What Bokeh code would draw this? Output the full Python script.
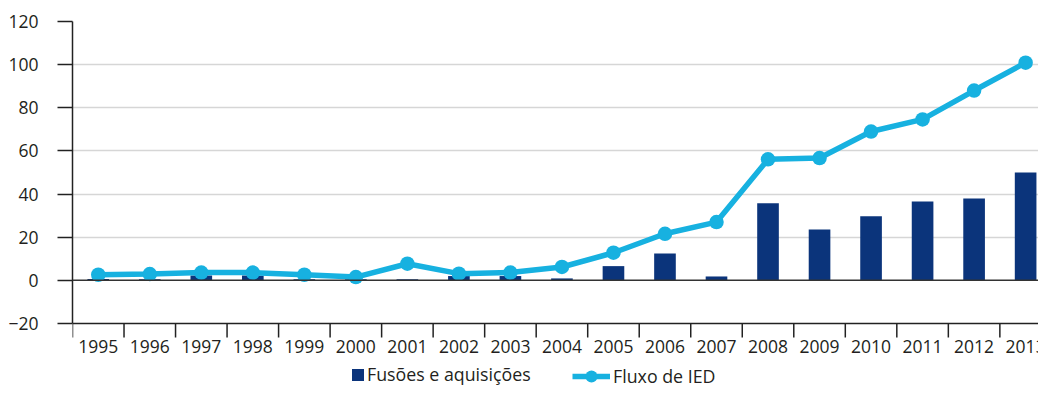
from bokeh.plotting import figure
from bokeh.models import (LinearAxis, FixedTicker, Range1d, Span, Legend, LegendItem,
                          ColumnDataSource)
from bokeh.core.properties import value
from bokeh.embed import file_html
from bokeh.resources import INLINE

years = ["1995", "1996", "1997", "1998", "1999", "2000", "2001", "2002", "2003", "2004",
         "2005", "2006", "2007", "2008", "2009", "2010", "2011", "2012", "2013"]
fusoes = [0.6, 0.5, 2.2, 2.2, 0.5, 0.5, 0.5, 2.0, 2.0, 0.9, 6.6, 12.5, 1.8,
          35.8, 23.6, 29.7, 36.6, 38.0, 50.0]
fluxo_ied = [2.6, 2.9, 3.6, 3.6, 2.6, 1.5, 7.7, 3.1, 3.6, 6.2, 12.8, 21.6, 27.0,
             56.1, 56.7, 69.0, 74.6, 88.0, 100.9]
y_ticks = [-20, 0, 20, 40, 60, 80, 100, 120]

n = len(years)
idx = list(range(n))
y_min, y_max = y_ticks[0], y_ticks[-1]
src = ColumnDataSource(dict(x=idx, fus=fusoes, ied=fluxo_ied, year=years,
                            base=[y_min] * n))

FONT = "Open Sans"
TXT = "#231f20"
NAVY = "#0b347b"
CYAN = "#17b1e0"
AX = "#222222"

W, H = 1038, 391
LEFT, TOP = 72, 21
PLOT_H = 302                            # height of the -20..120 span in px
FRAME_H = H - TOP
PPU_Y = PLOT_H / (y_max - y_min)
extra = (FRAME_H - PLOT_H) / PPU_Y      # room under the axis for labels/legend
x_end = 18.25

p = figure(width=W, height=H, output_backend="svg", toolbar_location=None,
           x_range=Range1d(-0.5, x_end), y_range=Range1d(y_min - extra, y_max),
           x_axis_location=None, y_axis_location=None,
           min_border_left=LEFT, min_border_right=0, min_border_top=TOP,
           min_border_bottom=0)
p.outline_line_color = None
p.background_fill_color = "white"
p.xgrid.visible = False
p.ygrid.ticker = FixedTicker(ticks=[t for t in y_ticks if t not in (0, y_min)])
p.ygrid.grid_line_color = "#d6d6d6"
p.ygrid.grid_line_width = 1.5

# y axis
ya = LinearAxis(ticker=FixedTicker(ticks=y_ticks), bounds=(y_min, y_max))
ya.axis_line_color = AX
ya.axis_line_width = 1.5
ya.major_tick_out = 15
ya.major_tick_in = 0
ya.major_tick_line_color = AX
ya.major_tick_line_width = 1.5
ya.minor_tick_line_color = None
ya.major_label_standoff = 19
ya.major_label_text_font = FONT
ya.major_label_text_font_size = "17.5px"
ya.major_label_text_color = TXT
p.add_layout(ya, "left")

# x axis line, category-boundary ticks and year labels
p.add_layout(Span(location=y_min, dimension="width", line_color=AX, line_width=1.5))
p.add_layout(Span(location=0, dimension="width", line_color="#333333", line_width=1.5))
bounds = [i - 0.5 for i in range(n + 1)]
tick_len = 14 / PPU_Y
p.segment(x0=bounds, y0=[y_min] * (n + 1), x1=bounds, y1=[y_min - tick_len] * (n + 1),
          line_color=AX, line_width=1.5)
p.text(x="x", y="base", text="year", source=src, y_offset=16,
       text_align="center", text_baseline="top", text_font=value(FONT),
       text_font_size="17.5px", text_color=TXT)

bars = p.vbar(x="x", top="fus", bottom=0, width=0.42, source=src,
              fill_color=NAVY, line_color=None)
ln = p.line(x="x", y="ied", source=src, line_color=CYAN, line_width=5.5)
pts = p.scatter(x="x", y="ied", source=src, size=14.5, fill_color=CYAN, line_color=None)

common = dict(padding=0, margin=0, border_line_color=None, background_fill_alpha=0,
              label_text_font=FONT, label_text_font_size="17.8px", label_text_color=TXT,
              label_height=20)
leg1 = Legend(items=[LegendItem(label="Fusões e aquisições", renderers=[bars])],
              location=(278, 5), glyph_width=15, glyph_height=15, label_standoff=2,
              **common)
leg2 = Legend(items=[LegendItem(label="Fluxo de IED", renderers=[ln, pts])],
              location=(500, 0), glyph_width=38, glyph_height=30, label_standoff=3,
              **common)
p.add_layout(leg1, "center")
p.add_layout(leg2, "center")

open("out.html", "w").write(file_html(p, INLINE))
